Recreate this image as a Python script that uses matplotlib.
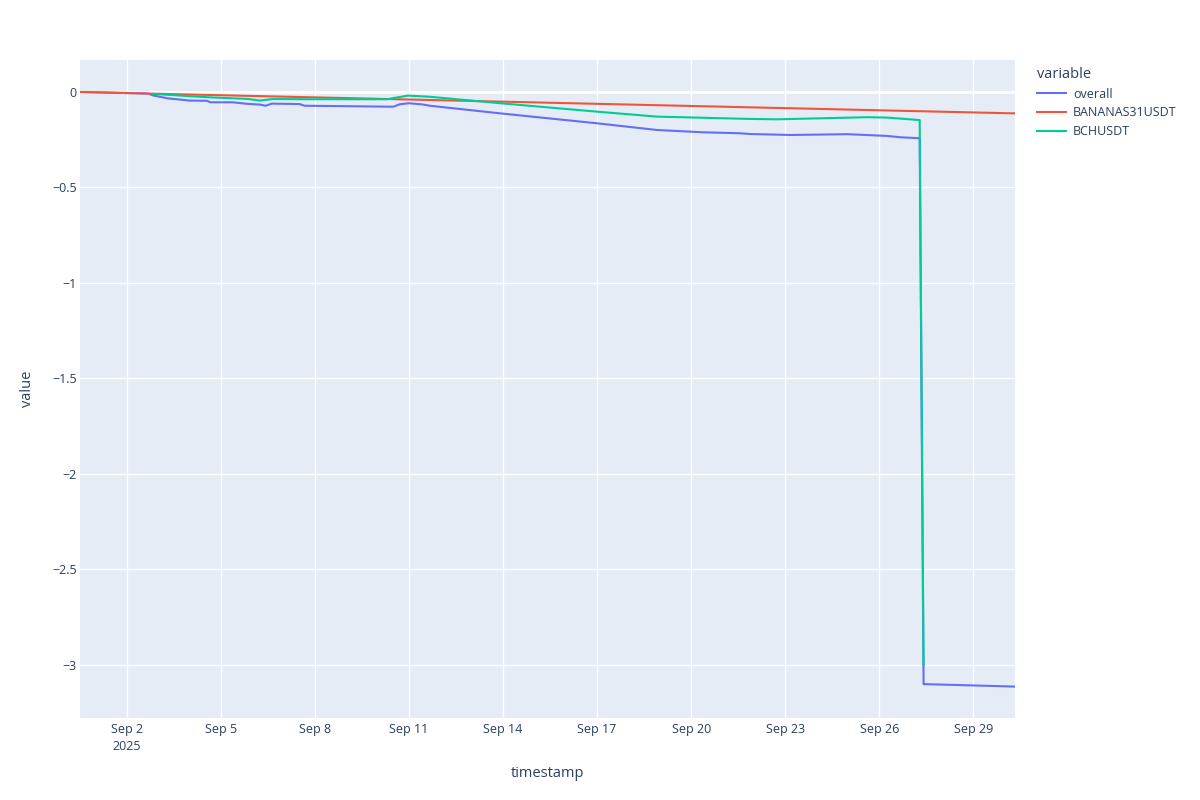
import matplotlib
matplotlib.use("Agg")
import matplotlib.pyplot as plt
import matplotlib.dates as mdates
import pandas as pd

plt.rcParams['font.family'] = ['Open Sans', 'DejaVu Sans']

# ---- data ----
overall_t = ["2025-08-31 12:00", "2025-09-02 16:00", "2025-09-02 20:00", "2025-09-03 07:00",
             "2025-09-04 00:00", "2025-09-04 13:00", "2025-09-04 16:00", "2025-09-05 09:00",
             "2025-09-05 20:00", "2025-09-06 06:00", "2025-09-06 10:00", "2025-09-06 15:00",
             "2025-09-07 12:00", "2025-09-07 16:00", "2025-09-10 12:00", "2025-09-10 17:00",
             "2025-09-11 00:00", "2025-09-11 10:00", "2025-09-11 16:00", "2025-09-13 22:00",
             "2025-09-17 00:00", "2025-09-18 22:00", "2025-09-20 09:00", "2025-09-21 13:00",
             "2025-09-21 21:00", "2025-09-23 04:00", "2025-09-25 00:00", "2025-09-26 06:00",
             "2025-09-26 16:00", "2025-09-27 07:00", "2025-09-27 10:00", "2025-09-30 08:00"]
overall_v = [0.0, -0.008, -0.018, -0.033,
             -0.045, -0.046, -0.054, -0.054,
             -0.062, -0.066, -0.072, -0.061,
             -0.063, -0.072, -0.077, -0.064,
             -0.059, -0.065, -0.072, -0.112,
             -0.164, -0.199, -0.211, -0.216,
             -0.220, -0.225, -0.221, -0.230,
             -0.237, -0.242, -3.100, -3.113]

banana_t = ["2025-08-31 12:00", "2025-09-30 08:00"]
banana_v = [0.0, -0.112]

bch_t = ["2025-09-02 20:00", "2025-09-04 15:00", "2025-09-05 20:00", "2025-09-06 06:00",
         "2025-09-06 15:00", "2025-09-07 23:00", "2025-09-10 07:00", "2025-09-10 23:00",
         "2025-09-11 16:00", "2025-09-13 22:00", "2025-09-17 00:00", "2025-09-18 22:00",
         "2025-09-21 21:00", "2025-09-22 18:00", "2025-09-25 15:00", "2025-09-26 06:00",
         "2025-09-27 07:00", "2025-09-27 10:00"]
bch_v = [-0.010, -0.028, -0.036, -0.045,
         -0.037, -0.038, -0.038, -0.019,
         -0.025, -0.059, -0.103, -0.129,
         -0.141, -0.143, -0.132, -0.134,
         -0.147, -3.000]

series_names = ["overall", "BANANAS31USDT", "BCHUSDT"]
colors = ["#636EFA", "#EF553B", "#00CC96"]

xtick_dates = ["2025-09-02", "2025-09-05", "2025-09-08", "2025-09-11", "2025-09-14",
               "2025-09-17", "2025-09-20", "2025-09-23", "2025-09-26", "2025-09-29"]
xtick_labels = ["Sep 2\n2025", "Sep 5", "Sep 8", "Sep 11", "Sep 14",
                "Sep 17", "Sep 20", "Sep 23", "Sep 26", "Sep 29"]
ytick_vals = [0, -0.5, -1, -1.5, -2, -2.5, -3]

# ---- figure ----
fig = plt.figure(figsize=(12, 8), dpi=100)
ax = fig.add_axes([80/1200, 1-718/800, (1015-80)/1200, (718-60)/800])
ax.set_facecolor("#E5ECF6")
for s in ax.spines.values():
    s.set_visible(False)

data = [(overall_t, overall_v), (banana_t, banana_v), (bch_t, bch_v)]
for (t, v), name, c in zip(data, series_names, colors):
    ax.plot(pd.to_datetime(t), v, color=c, lw=1.5, label=name, solid_joinstyle='round', zorder=3)

ax.set_xlim(pd.Timestamp("2025-08-31 12:00"), pd.Timestamp("2025-09-30 08:00"))
ax.set_ylim(-3.2775, 0.1675)

ax.set_xticks(pd.to_datetime(xtick_dates))
ax.set_xticklabels(xtick_labels, linespacing=1.45)
ax.set_yticks(ytick_vals)
ax.set_yticklabels([("\u2212" + f"{abs(v):g}") if v < 0 else f"{v:g}" for v in ytick_vals])

ax.grid(True, color="white", lw=1.0, zorder=0)
ax.axhline(0, color="white", lw=2.0, zorder=1)
ax.set_axisbelow(True)
ax.tick_params(axis='both', length=0, labelsize=9, labelcolor="#2a3f5f")
ax.tick_params(axis='x', pad=3.5)
ax.tick_params(axis='y', pad=2.5)

ax.set_xlabel("timestamp", fontsize=10.5, color="#2a3f5f", labelpad=9)
ax.set_ylabel("value", fontsize=10.5, color="#2a3f5f", labelpad=12)

leg = ax.legend(loc="upper left", bbox_to_anchor=(1032/1200, 1-62/800),
                bbox_transform=fig.transFigure, frameon=False, title="variable",
                fontsize=9, title_fontsize=10.5, handlelength=2.3, labelspacing=0.45,
                alignment="left", borderaxespad=0, handletextpad=0.6)
for txt in leg.get_texts():
    txt.set_color("#2a3f5f")
leg.get_title().set_color("#2a3f5f")

fig.savefig("out.png", dpi=100, facecolor="white")
